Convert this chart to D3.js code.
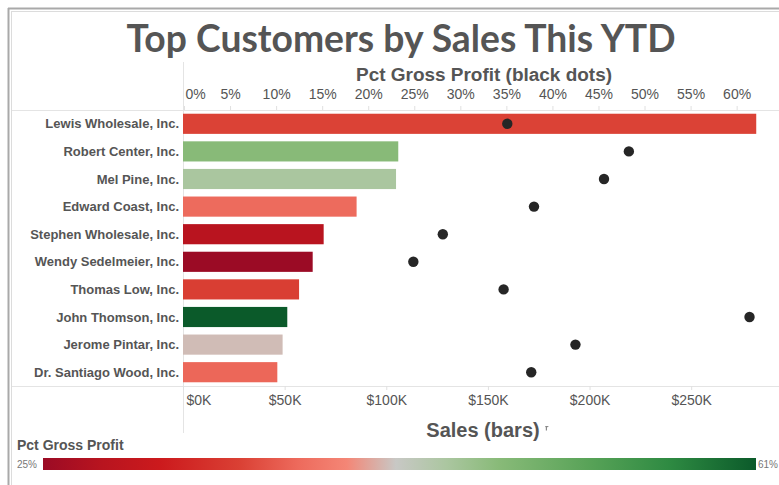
<!DOCTYPE html>
<html>
<head>
<meta charset="utf-8">
<script src="https://cdn.jsdelivr.net/npm/d3@7/dist/d3.min.js"></script>
<style>
	body { margin: 0; background: #fff; }
	svg { display: block; }
</style>
</head>
<body>
<div id="chart"></div>
<script>
(function () {
	'use strict';

	// data
	var customers = ["Lewis Wholesale, Inc.", "Robert Center, Inc.", "Mel Pine, Inc.", "Edward Coast, Inc.",
		"Stephen Wholesale, Inc.", "Wendy Sedelmeier, Inc.", "Thomas Low, Inc.", "John Thomson, Inc.",
		"Jerome Pintar, Inc.", "Dr. Santiago Wood, Inc."];
	var sales = [282000, 105900, 104800, 85400, 69200, 63800, 57100, 51300, 49000, 46400];
	var pctGrossProfit = [35.1, 48.3, 45.6, 38.0, 28.1, 24.9, 34.7, 61.4, 42.5, 37.7];
	var salesTicks = [0, 50000, 100000, 150000, 200000, 250000];
	var pctTicks = [0, 5, 10, 15, 20, 25, 30, 35, 40, 45, 50, 55, 60];

	// red-grey-green diverging palette (position along legend, colour)
	var paletteStops = [0, 0.082, 0.165, 0.275, 0.357, 0.426, 0.495, 0.566, 0.64, 0.769, 0.879, 1];
	var paletteColors = ["#9b0b25", "#b8141f", "#cc1a1d", "#da4034", "#ed6a5c", "#f48676",
		"#c8c8c5", "#abc6a0", "#88ba78", "#57a257", "#2e8a42", "#0b5a2a"];

	var width = 779, height = 485;
	var left = 183, right = 779;
	var rowTop = 110, rowBottom = 386;
	var textColor = "#555";

	var svg = d3.select("#chart").append("svg")
		.attr("width", width)
		.attr("height", height);

	var x = d3.scaleLinear().domain([0, 293200]).range([left, right]);
	var xPct = d3.scaleLinear().domain([0, 64.6]).range([left + 1, right]);
	var y = d3.scaleBand().domain(customers).range([rowTop, rowBottom]).paddingInner(0.27).paddingOuter(0.135);

	var ext = d3.extent(pctGrossProfit);
	var color = d3.scaleLinear()
		.domain(paletteStops.map(function(t) { return ext[0] + t * (ext[1] - ext[0]); }))
		.range(paletteColors)
		.interpolate(d3.interpolateRgb);

	// frame
	svg.append("line").attr("x1", 8.5).attr("x2", 8.5).attr("y1", 8).attr("y2", height)
		.attr("stroke", "#a9a9a9").attr("stroke-width", 2);
	svg.append("line").attr("x1", 8).attr("x2", width).attr("y1", 8.5).attr("y2", 8.5)
		.attr("stroke", "#a9a9a9").attr("stroke-width", 2);
	svg.append("line").attr("x1", 11.5).attr("x2", 11.5).attr("y1", 11).attr("y2", height)
		.attr("stroke", "#dcdcdc");
	svg.append("line").attr("x1", 11).attr("x2", width).attr("y1", 11.5).attr("y2", 11.5)
		.attr("stroke", "#dcdcdc");

	// title
	svg.append("text")
		.attr("x", 401).attr("y", 52)
		.attr("text-anchor", "middle")
		.attr("textLength", 549)
		.attr("lengthAdjust", "spacingAndGlyphs")
		.style("font-family", "Lato, 'Open Sans', sans-serif")
		.style("font-weight", "bold")
		.style("font-size", "38px")
		.style("fill", textColor)
		.text("Top Customers by Sales This YTD");

	// pane rules
	svg.append("line").attr("x1", 12).attr("x2", right).attr("y1", rowTop + 0.5).attr("y2", rowTop + 0.5)
		.attr("stroke", "#e4e4e4");
	svg.append("line").attr("x1", 12).attr("x2", right).attr("y1", rowBottom + 0.5).attr("y2", rowBottom + 0.5)
		.attr("stroke", "#e4e4e4");
	svg.append("line").attr("x1", left + 0.5).attr("x2", left + 0.5).attr("y1", 62).attr("y2", 433)
		.attr("stroke", "#e4e4e4");

	// top axis: pct gross profit
	var topAxis = svg.append("g")
		.attr("transform", "translate(0," + rowTop + ")")
		.call(d3.axisTop(xPct).tickValues(pctTicks).tickSize(4).tickPadding(7)
			.tickFormat(function(d) { return d + "%"; }));
	topAxis.select(".domain").remove();
	topAxis.selectAll(".tick line").attr("stroke", "#e0e0e0");
	topAxis.selectAll(".tick text")
		.style("font-family", "'Liberation Sans', Arial, sans-serif")
		.style("font-size", "14px")
		.style("fill", textColor)
		.filter(function(d) { return d === 0; })
		.attr("text-anchor", "start").attr("dx", 1);

	svg.append("text")
		.attr("x", 484).attr("y", 81)
		.attr("text-anchor", "middle")
		.attr("textLength", 256)
		.attr("lengthAdjust", "spacingAndGlyphs")
		.style("font-family", "'Liberation Sans', Arial, sans-serif")
		.style("font-weight", "bold")
		.style("font-size", "18px")
		.style("fill", textColor)
		.text("Pct Gross Profit (black dots)");

	// bottom axis: sales
	var bottomAxis = svg.append("g")
		.attr("transform", "translate(0," + rowBottom + ")")
		.call(d3.axisBottom(x).tickValues(salesTicks).tickSize(4).tickPadding(5)
			.tickFormat(function(d) { return "$" + d / 1000 + "K"; }));
	bottomAxis.select(".domain").remove();
	bottomAxis.selectAll(".tick line").attr("stroke", "#e0e0e0");
	bottomAxis.selectAll(".tick text")
		.style("font-family", "'Liberation Sans', Arial, sans-serif")
		.style("font-size", "14px")
		.style("fill", textColor)
		.filter(function(d) { return d === 0; })
		.attr("text-anchor", "start").attr("dx", 3);

	svg.append("text")
		.attr("x", 483).attr("y", 437)
		.attr("text-anchor", "middle")
		.style("font-family", "'Liberation Sans', Arial, sans-serif")
		.style("font-weight", "bold")
		.style("font-size", "20px")
		.style("fill", textColor)
		.text("Sales (bars)");
	// little sort marker next to the axis title
	svg.append("path")
		.attr("d", "M545,426 h4 l-2,1.5 v3 h-1.2 v-3 z")
		.attr("fill", "#888");

	// row labels
	svg.append("g").selectAll("text")
		.data(customers)
		.enter().append("text")
		.attr("x", left - 4)
		.attr("y", function(d) { return y(d) + y.bandwidth() / 2; })
		.attr("dy", "0.35em")
		.attr("text-anchor", "end")
		.style("font-family", "'Liberation Sans', Arial, sans-serif")
		.style("font-weight", "bold")
		.style("font-size", "13px")
		.style("fill", textColor)
		.text(function(d) { return d; });

	// bars
	svg.append("g").selectAll("rect")
		.data(customers)
		.enter().append("rect")
		.attr("x", x(0))
		.attr("y", function(d) { return y(d); })
		.attr("width", function(d, i) { return x(sales[i]) - x(0); })
		.attr("height", y.bandwidth())
		.attr("fill", function(d, i) { return color(pctGrossProfit[i]); });

	// dots
	svg.append("g").selectAll("circle")
		.data(customers)
		.enter().append("circle")
		.attr("cx", function(d, i) { return xPct(pctGrossProfit[i]); })
		.attr("cy", function(d) { return y(d) + y.bandwidth() / 2; })
		.attr("r", 5.2)
		.attr("fill", "#262626");

	// colour legend
	var legX0 = 43, legX1 = 756, legY = 458, legH = 12;
	var grad = svg.append("defs").append("linearGradient")
		.attr("id", "pctGrad")
		.attr("x1", "0%").attr("x2", "100%").attr("y1", "0%").attr("y2", "0%");
	grad.selectAll("stop")
		.data(paletteStops)
		.enter().append("stop")
		.attr("offset", function(d) { return (d * 100) + "%"; })
		.attr("stop-color", function(d, i) { return paletteColors[i]; });

	svg.append("text")
		.attr("x", 17).attr("y", 450)
		.style("font-family", "'Liberation Sans', Arial, sans-serif")
		.style("font-weight", "bold")
		.style("font-size", "14px")
		.style("fill", textColor)
		.text("Pct Gross Profit");

	svg.append("rect")
		.attr("x", legX0).attr("y", legY)
		.attr("width", legX1 - legX0).attr("height", legH)
		.attr("fill", "url(#pctGrad)");

	svg.append("text")
		.attr("x", 17).attr("y", legY + 10)
		.style("font-family", "'Liberation Sans', Arial, sans-serif")
		.style("font-size", "10px")
		.style("fill", "#777")
		.text(Math.round(ext[0]) + "%");
	svg.append("text")
		.attr("x", legX1 + 2).attr("y", legY + 10)
		.style("font-family", "'Liberation Sans', Arial, sans-serif")
		.style("font-size", "10px")
		.style("fill", "#777")
		.text(Math.round(ext[1]) + "%");
}());
</script>
</body>
</html>
